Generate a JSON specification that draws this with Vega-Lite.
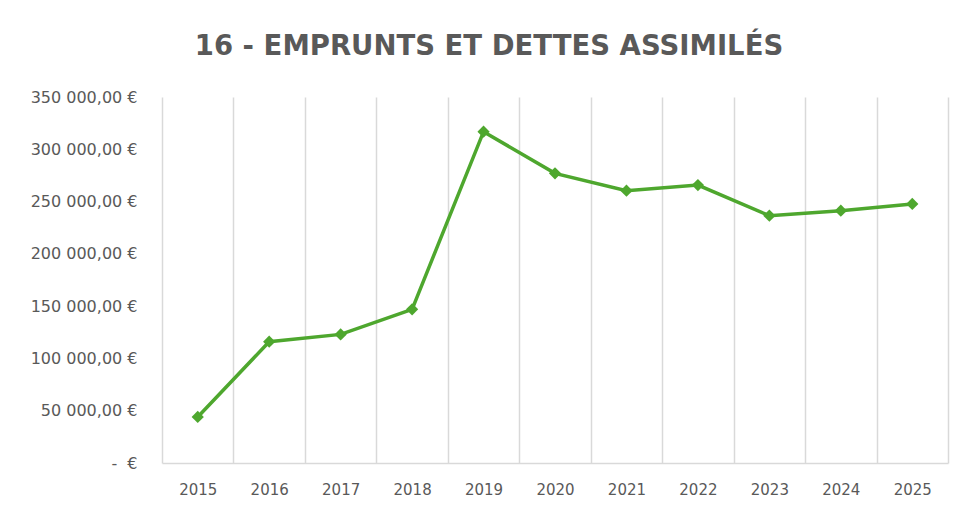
{
  "$schema": "https://vega.github.io/schema/vega-lite/v6.json",
  "autosize": "none",
  "width": 786,
  "height": 366,
  "padding": {"left": 162, "top": 97, "right": 12, "bottom": 43},
  "background": "white",
  "title": {
    "text": "16 - EMPRUNTS ET DETTES ASSIMILÉS",
    "anchor": "middle",
    "dx": -66,
    "offset": 29,
    "font": "DejaVu Sans, sans-serif",
    "fontSize": 27.5,
    "fontWeight": "bold",
    "color": "#595959"
  },
  "config": {
    "view": {"stroke": null},
    "axis": {
      "labelFont": "DejaVu Sans, sans-serif",
      "labelColor": "#595959"
    }
  },
  "data": {
    "values": [
      {"year": "2015", "value": 44000},
      {"year": "2016", "value": 116000},
      {"year": "2017", "value": 123000},
      {"year": "2018", "value": 147000},
      {"year": "2019", "value": 316800},
      {"year": "2020", "value": 277000},
      {"year": "2021", "value": 260400},
      {"year": "2022", "value": 265800},
      {"year": "2023", "value": 236500},
      {"year": "2024", "value": 241300},
      {"year": "2025", "value": 247700}
    ]
  },
  "encoding": {
    "x": {
      "field": "year",
      "type": "ordinal",
      "scale": {"paddingInner": 0, "paddingOuter": 0},
      "axis": {
        "title": null,
        "labelAngle": 0,
        "tickBand": "extent",
        "ticks": false,
        "grid": true,
        "gridColor": "#d9d9d9",
        "gridWidth": 1.5,
        "domainColor": "#d9d9d9",
        "domainWidth": 1.5,
        "labelPadding": 19,
        "labelFontSize": 15
      }
    },
    "y": {
      "field": "value",
      "type": "quantitative",
      "scale": {"domain": [0, 350000], "nice": false},
      "axis": {
        "title": null,
        "values": [0, 50000, 100000, 150000, 200000, 250000, 300000, 350000],
        "grid": false,
        "domain": false,
        "ticks": false,
        "labelPadding": 25,
        "labelFontSize": 16,
        "labelExpr": "datum.value == 0 ? '-\u00a0\u00a0€' : format(datum.value / 1000, 'd') + ' 000,00 €'"
      }
    }
  },
  "layer": [
    {
      "mark": {"type": "line", "color": "#4ea72e", "strokeWidth": 3.5}
    },
    {
      "mark": {"type": "point", "shape": "diamond", "filled": true, "color": "#4ea72e", "size": 150, "opacity": 1}
    }
  ]
}
